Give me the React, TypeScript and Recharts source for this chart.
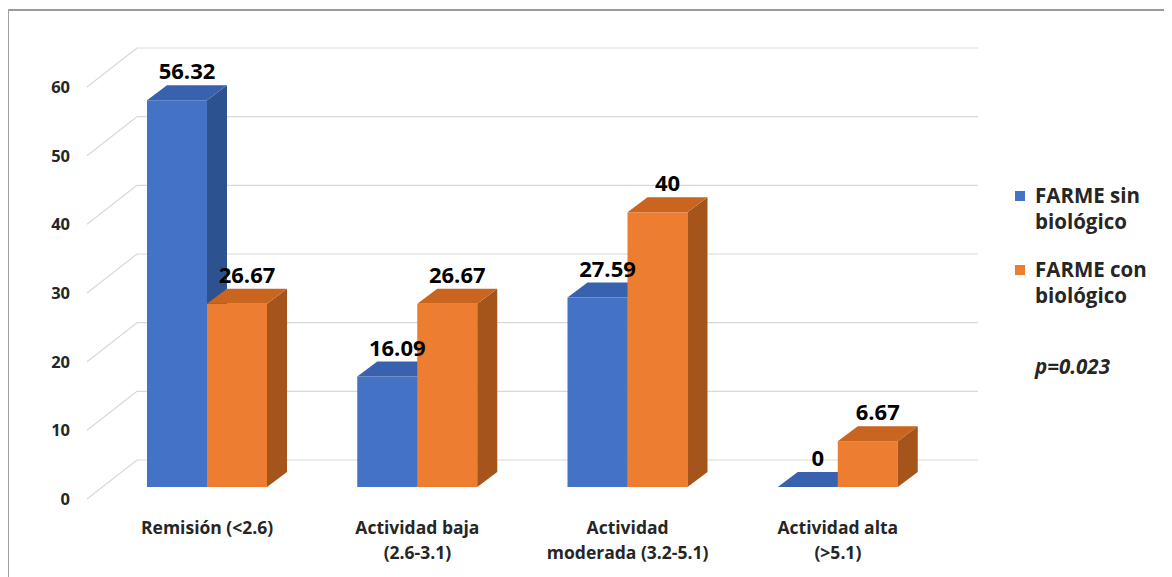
import React from 'react';
import { BarChart, Bar, XAxis, YAxis, CartesianGrid, LabelList } from 'recharts';

const categories = ['Remisión (<2.6)', 'Actividad baja (2.6-3.1)', 'Actividad moderada (3.2-5.1)', 'Actividad alta (>5.1)'];
const categoryLines = [['Remisión (<2.6)'], ['Actividad baja', '(2.6-3.1)'], ['Actividad', 'moderada (3.2-5.1)'], ['Actividad alta', '(>5.1)']];
const sinBiologico = [56.32, 16.09, 27.59, 0];
const conBiologico = [26.67, 26.67, 40, 6.67];
const yTicks = [0, 10, 20, 30, 40, 50, 60];
const seriesNames = ['FARME sin biológico', 'FARME con biológico'];
const pValue = 'p=0.023';

const data = categories.map((c, i) => ({ name: c, sin: sinBiologico[i], con: conBiologico[i] }));

const FONT = '"Open Sans", Lato, sans-serif';

// fake 3d projection
const BAR_DX = 20;
const BAR_DY = 15;
const WALL_DX = 35;
const WALL_DY = 27;
const FLOOR_DX = 15;
const FLOOR_DY = 12;

const colors = {
  sin: { front: '#4472C4', top: '#3862AE', side: '#2E5190' },
  con: { front: '#ED7D31', top: '#C9651F', side: '#A5551B' },
};

const make3dBar = (c: { front: string; top: string; side: string }) => (props: any) => {
  const { x, y, width, height } = props;
  const yb = y + height;
  return (
    <g>
      {height > 0 && <rect x={x} y={y} width={width} height={height} fill={c.front} />}
      {height > 0 && (
        <polygon
          points={`${x + width},${y} ${x + width + BAR_DX},${y - BAR_DY} ${x + width + BAR_DX},${yb - BAR_DY} ${x + width},${yb}`}
          fill={c.side}
        />
      )}
      <polygon
        points={`${x},${y} ${x + width},${y} ${x + width + BAR_DX},${y - BAR_DY} ${x + BAR_DX},${y - BAR_DY}`}
        fill={c.top}
      />
    </g>
  );
};

const gridLine = (props: any) => {
  const { x1, x2, y1, index } = props;
  return (
    <g key={`g-${index}`}>
      <line x1={x1 - FLOOR_DX} y1={y1 + FLOOR_DY} x2={x1 + WALL_DX} y2={y1 - WALL_DY} stroke="#d9d9d9" strokeWidth={1.2} />
      <line x1={x1 + WALL_DX} y1={y1 - WALL_DY} x2={x2 + WALL_DX} y2={y1 - WALL_DY} stroke="#d9d9d9" strokeWidth={1.2} />
    </g>
  );
};

const YTick = (props: any) => {
  const { x, y, payload } = props;
  return (
    <text x={x - 24} y={y + FLOOR_DY} dy={6} textAnchor="end" fontFamily={FONT} fontWeight={700} fontSize={16.5} fill="#262626">
      {payload.value}
    </text>
  );
};

const XTick = (props: any) => {
  const { x, y, index } = props;
  const lines = categoryLines[index] || [];
  return (
    <g>
      {lines.map((l, i) => (
        <text key={i} x={x} y={y + 39 + i * 25} textAnchor="middle" fontFamily={FONT} fontWeight={700} fontSize={17.5} fill="#262626">
          {l}
        </text>
      ))}
    </g>
  );
};

const ValueLabel = (props: any) => {
  const { x, y, width, value } = props;
  return (
    <text x={x + width / 2 + BAR_DX / 2} y={y - BAR_DY - 6} textAnchor="middle" fontFamily={FONT} fontWeight={700} fontSize={22} fill="#000">
      {value}
    </text>
  );
};

export default function App() {
  return (
    <div style={{ position: 'relative', width: 1164, height: 569, fontFamily: FONT }}>
      <div style={{ position: 'absolute', left: 0, top: 1, width: 1164, height: 568, borderTop: '2px solid #9a9a9a', borderLeft: '1px solid #a0a0a0' }} />
      <div style={{ position: 'absolute', left: 0, top: 0 }}>
        <BarChart width={1164} height={569} data={data} margin={{ top: 67, right: 229, bottom: 60, left: 0 }} barSize={60} barGap={0}>
          <CartesianGrid vertical={false} horizontal={gridLine} />
          <XAxis dataKey="name" height={30} axisLine={false} tickLine={false} tick={<XTick />} interval={0} />
          <YAxis width={94} domain={[0, 60]} ticks={yTicks} axisLine={false} tickLine={false} tick={<YTick />} />
          <Bar dataKey="sin" shape={make3dBar(colors.sin)} isAnimationActive={false}>
            <LabelList dataKey="sin" content={<ValueLabel />} />
          </Bar>
          <Bar dataKey="con" shape={make3dBar(colors.con)} isAnimationActive={false}>
            <LabelList dataKey="con" content={<ValueLabel />} />
          </Bar>
        </BarChart>
      </div>
      <div style={{ position: 'absolute', left: 1007, top: 174, fontWeight: 700, fontSize: 20.5, color: '#262626', lineHeight: '26px' }}>
        {seriesNames.map((n, i) => {
          const words = n.split(' ');
          return (
            <div key={n} style={{ display: 'flex', marginBottom: i === 0 ? 22 : 0 }}>
              <div style={{ width: 10, height: 10, marginTop: 9, marginRight: 10, background: i === 0 ? colors.sin.front : colors.con.front }} />
              <div>
                <div>{words.slice(0, 2).join(' ')}</div>
                <div>{words.slice(2).join(' ')}</div>
              </div>
            </div>
          );
        })}
        <div style={{ marginTop: 45, marginLeft: 20, fontStyle: 'italic' }}>{pValue}</div>
      </div>
    </div>
  );
}
